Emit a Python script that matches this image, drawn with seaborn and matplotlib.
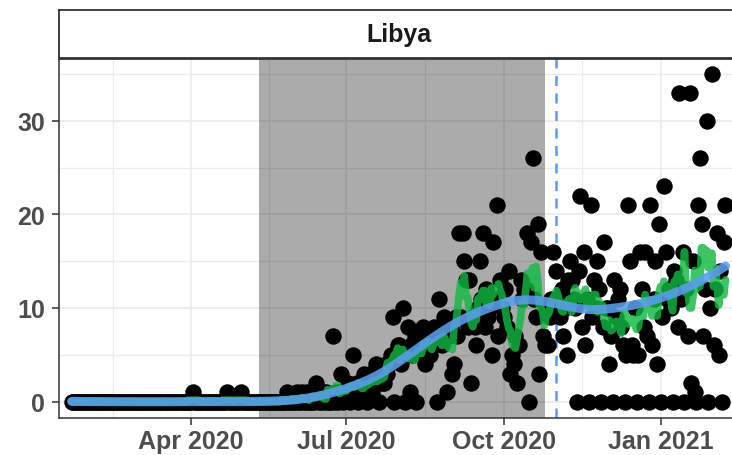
import numpy as np
import pandas as pd
import matplotlib
matplotlib.use("Agg")
import matplotlib.pyplot as plt
import matplotlib.dates as mdates
from matplotlib.ticker import FixedLocator
import seaborn as sns

# ---------- DATA (daily deaths, Libya) ----------
start_date = "2020-01-22"
country = "Libya"

deaths_jan20 = [0, 0, 0, 0, 0, 0, 0, 0, 0, 0]
deaths_feb20 = [0, 0, 0, 0, 0, 0, 0, 0, 0, 0, 0, 0, 0, 0, 0,
                0, 0, 0, 0, 0, 0, 0, 0, 0, 0, 0, 0, 0, 0]
deaths_mar20 = [0, 0, 0, 0, 0, 0, 0, 0, 0, 0, 0, 0, 0, 0, 0, 0,
                0, 0, 0, 0, 0, 0, 0, 0, 0, 0, 0, 0, 0, 0, 0]
deaths_apr20 = [0, 1, 0, 0, 0, 0, 0, 0, 0, 0, 0, 0, 0, 0, 0,
                0, 0, 0, 0, 0, 0, 1, 0, 0, 0, 0, 0, 0, 0, 1]
deaths_may20 = [0, 0, 0, 0, 0, 0, 0, 0, 0, 0, 0, 0, 0, 0, 0, 0,
                0, 0, 0, 0, 0, 0, 0, 0, 0, 0, 1, 0, 0, 0, 0]
deaths_jun20 = [0, 1, 0, 0, 1, 0, 0, 1, 0, 0, 0, 0, 2, 1, 0,
                0, 1, 0, 1, 0, 0, 0, 7, 0, 1, 0, 1, 3, 0, 1]
deaths_jul20 = [1, 2, 0, 1, 5, 1, 2, 0, 2, 1, 3, 2, 0, 2, 3, 1,
                2, 4, 3, 0, 3, 2, 2, 4, 3, 4, 5, 9, 0, 5, 6]
deaths_aug20 = [6, 4, 10, 0, 5, 8, 1, 6, 5, 7, 0, 7, 5, 6, 8, 4,
                6, 7, 5, 7, 8, 6, 0, 11, 7, 6, 9, 8, 1, 7, 8]
deaths_sep20 = [3, 4, 9, 7, 18, 9, 18, 15, 13, 8, 13, 2, 9, 8, 6,
                10, 15, 11, 18, 8, 12, 9, 10, 5, 17, 11, 21, 7, 13, 10]
deaths_oct20 = [9, 12, 8, 14, 3, 5, 4, 7, 2, 6, 13, 11, 12, 12, 18, 0,
                17, 26, 11, 9, 19, 3, 16, 7, 6, 10, 6, 9, 11, 16, 10]
deaths_nov20 = [14, 11, 9, 12, 7, 10, 5, 13, 15, 13, 11, 10, 0, 14, 22,
                8, 16, 6, 11, 0, 21, 9, 13, 10, 15, 12, 0, 8, 17, 10]
deaths_dec20 = [10, 4, 7, 0, 13, 9, 11, 12, 8, 6, 0, 5, 21, 15, 6, 5,
                10, 0, 5, 16, 12, 8, 16, 7, 0, 21, 6, 11, 15, 4, 19]
deaths_jan21 = [0, 9, 23, 16, 11, 12, 10, 0, 14, 13, 8, 33, 11, 16, 0, 12,
                7, 33, 2, 15, 1, 0, 21, 26, 19, 7, 12, 30, 0, 10, 35]
deaths_feb21 = [6, 12, 18, 5, 14, 0, 17, 21]

shade_start = "2020-05-11"
shade_end = "2020-10-25"
event_date = "2020-11-01"

deaths = (deaths_jan20 + deaths_feb20 + deaths_mar20 + deaths_apr20 +
          deaths_may20 + deaths_jun20 + deaths_jul20 + deaths_aug20 +
          deaths_sep20 + deaths_oct20 + deaths_nov20 + deaths_dec20 +
          deaths_jan21 + deaths_feb21)

df = pd.DataFrame({"date": pd.date_range(start_date, periods=len(deaths), freq="D"),
                   "deaths": deaths})
df["roll"] = df["deaths"].rolling(7, center=True, min_periods=1).mean()


# ---------- LOESS SMOOTH ----------
def loess(x, y, xs, span=0.45):
    k = int(np.ceil(span * len(x)))
    out = []
    for x0 in xs:
        d = np.abs(x - x0)
        h = np.sort(d)[k - 1]
        w = np.clip(1 - (d / h) ** 3, 0, None) ** 3
        coef = np.polyfit(x - x0, y, 2, w=np.sqrt(w))
        out.append(coef[-1])
    return np.array(out)


day = np.arange(len(df), dtype=float)
grid = np.linspace(0, day[-1], 80)
smooth = pd.DataFrame({"date": pd.Timestamp(start_date) + pd.to_timedelta(grid, unit="D"),
                       "fit": loess(day, df["deaths"].to_numpy(float), grid)})

# ---------- PLOT ----------
sns.set_theme(style="white")
plt.rcParams["font.family"] = ["Liberation Sans", "DejaVu Sans"]
plt.rcParams["font.weight"] = "bold"

fig = plt.figure(figsize=(7.32, 4.56), dpi=100)
W, H = 732, 456
ax = fig.add_axes([58.5 / W, 37 / H, 680.1 / W, 360.5 / H])
strip = fig.add_axes([58.5 / W, 397.5 / H, 680.1 / W, 47.8 / H])

ax.set_axisbelow(True)
ax.axvspan(pd.Timestamp(shade_start), pd.Timestamp(shade_end), color="black", alpha=0.33, lw=0, zorder=1)
ax.axvline(pd.Timestamp(event_date), color="#5B9BF0", ls=(0, (4, 3)), lw=1.8, zorder=1.5)

sns.scatterplot(data=df, x="date", y="deaths", color="black", s=140, linewidth=0, ax=ax, zorder=2)
sns.lineplot(data=df, x="date", y="roll", color="#12B843", alpha=0.82, lw=5.5, ax=ax, zorder=3)
sns.lineplot(data=smooth, x="date", y="fit", color="#5A9EEA", alpha=0.88, lw=6.5, ax=ax, zorder=4)

t0 = pd.Timestamp(start_date)
ax.set_xlim(t0 - pd.Timedelta(days=7.7), t0 + pd.Timedelta(days=390.7))
ax.set_ylim(-1.75, 36.75)

ax.xaxis.set_major_locator(mdates.MonthLocator(bymonth=[1, 4, 7, 10]))
ax.xaxis.set_major_formatter(mdates.DateFormatter("%b %Y"))
majors = mdates.date2num(pd.to_datetime(["2020-01-01", "2020-04-01", "2020-07-01",
                                         "2020-10-01", "2021-01-01", "2021-04-01"]))
ax.xaxis.set_minor_locator(FixedLocator((majors[:-1] + majors[1:]) / 2))
ax.set_yticks([0, 10, 20, 30])
ax.yaxis.set_minor_locator(FixedLocator([5, 15, 25, 35]))

ax.grid(which="major", color="#EBEBEB", lw=1.2)
ax.grid(which="minor", color="#EBEBEB", lw=0.9)
ax.tick_params(which="major", length=5, width=1.1, color="#333333",
               labelcolor="#4D4D4D", labelsize=18, bottom=True, left=True)
ax.tick_params(axis="x", pad=3)
ax.tick_params(axis="y", pad=4.5)
ax.tick_params(which="minor", length=0)
ax.set_xlabel("")
ax.set_ylabel("")
for s in ["top", "right"]:
    ax.spines[s].set_visible(False)
for s in ["left", "bottom"]:
    ax.spines[s].set_color("#333333")
    ax.spines[s].set_linewidth(1.1)

strip.set_xticks([])
strip.set_yticks([])
strip.set_facecolor("white")
for s in strip.spines.values():
    s.set_color("#333333")
    s.set_linewidth(1.3)
strip.spines["bottom"].set_linewidth(2)
strip.text(0.5, 0.5, country, ha="center", va="center", fontsize=18,
           fontweight="bold", color="#1A1A1A", transform=strip.transAxes)

fig.savefig("out.png", dpi=100)
